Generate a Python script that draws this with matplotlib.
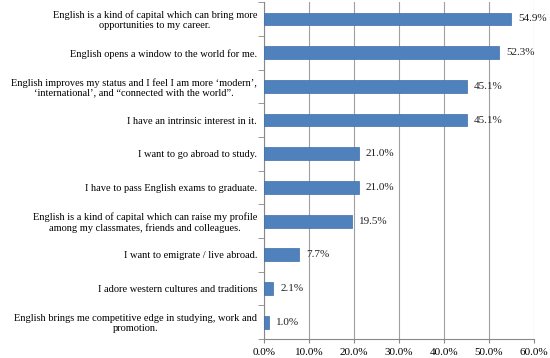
import matplotlib.pyplot as plt
import numpy as np

categories = [
    "English is a kind of capital which can bring more\nopportunities to my career.",
    "English opens a window to the world for me.",
    "English improves my status and I feel I am more \u2018modern\u2019,\n\u2018international\u2019, and \u201cconnected with the world\u201d.",
    "I have an intrinsic interest in it.",
    "I want to go abroad to study.",
    "I have to pass English exams to graduate.",
    "English is a kind of capital which can raise my profile\namong my classmates, friends and colleagues.",
    "I want to emigrate / live abroad.",
    "I adore western cultures and traditions",
    "English brings me competitive edge in studying, work and\npromotion.",
]
values = [54.9, 52.3, 45.1, 45.1, 21.0, 21.0, 19.5, 7.7, 2.1, 1.0]
xticks = [0, 10, 20, 30, 40, 50, 60]

plt.rcParams['font.family'] = ['Liberation Serif', 'DejaVu Serif']

fig = plt.figure(figsize=(5.5, 3.58), dpi=100)
ax = fig.add_axes([0.48, 0.053, 0.491, 0.941])

n = len(categories)
y = np.arange(n)[::-1]
ax.barh(y, values, height=0.38, color='#4F81BD', edgecolor='#3F6FA8', linewidth=0.5, zorder=3)

for yi, v in zip(y, values):
    ax.text(v + 1.6, yi, f'{v:.1f}%', va='center', ha='left', fontsize=8, color='#222222')

ax.set_xlim(0, 60)
ax.set_ylim(-0.5, n - 0.5)
ax.set_xticks(xticks)
ax.set_xticklabels([f'{t:.1f}%' for t in xticks], fontsize=8)
ax.set_yticks(y)
ax.set_yticklabels(categories, fontsize=7.5, linespacing=1.15, multialignment='center')
ax.tick_params(axis='y', length=0, pad=5)
ax.set_yticks(np.arange(-0.5, n, 1.0), minor=True)
ax.tick_params(axis='y', which='minor', length=4, color='#888888')
ax.tick_params(axis='x', length=3, color='#888888')

ax.grid(axis='x', color='#A0A0A0', linewidth=0.8, zorder=0)
for s in ['top', 'right']:
    ax.spines[s].set_visible(False)
ax.spines['left'].set_color('#888888')
ax.spines['bottom'].set_color('#888888')

fig.savefig('out.png', dpi=100)
